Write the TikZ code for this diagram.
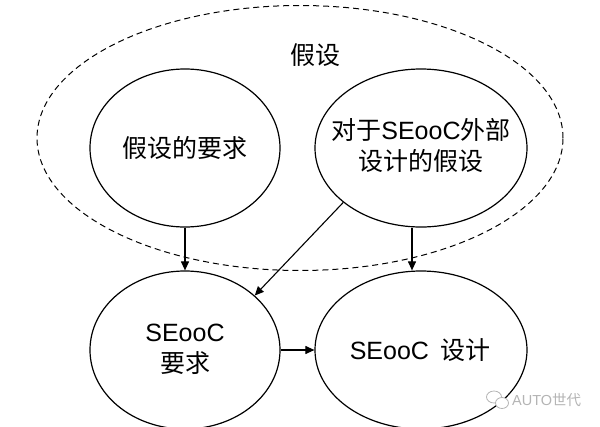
\documentclass[tikz,border=0pt]{standalone}
\usepackage{fontspec}
\setmainfont{Liberation Sans}
\newfontfamily\cjk{Noto Sans CJK SC}
\newfontfamily\lat{Liberation Sans}
\usetikzlibrary{shapes.geometric,arrows.meta}
\definecolor{wm}{HTML}{B4B4B4}
\begin{document}
\begin{tikzpicture}[x=1pt,y=-1pt,
  bub/.style={draw=black, line width=1.2pt, ellipse, inner sep=0pt},
  lbl/.style={font=\cjk\fontsize{25}{31}\selectfont, align=center, inner sep=0pt, text=black},
  conn/.style={line width=1.1pt, -{Triangle[length=9pt,width=8pt]}},
]
\useasboundingbox (0,0) rectangle (600,426);
\node[draw=black, dash pattern=on 6pt off 4pt, line width=1pt, ellipse,
      minimum width=526pt, minimum height=265pt, inner sep=0pt] (grp) at (300,138) {};
\node[lbl] (tgrp) at (315,55) {假设};
\node[bub, minimum width=190pt, minimum height=158pt] (c1) at (185,148) {};
\node[bub, minimum width=212pt, minimum height=158pt] (c2) at (421,148) {};
\node[bub, minimum width=190pt, minimum height=158pt] (c3) at (185,350) {};
\node[bub, minimum width=212pt, minimum height=158pt] (c4) at (421,350) {};
\node[lbl] (t1) at (c1.center) {假设的要求};
\node[lbl] (t2) at ([yshift=3pt]c2.center) {对于{\lat SEooC}外部\\设计的假设};
\node[lbl] (t3) at ([yshift=1pt]c3.center) {{\lat SEooC}\\要求};
\node[lbl] (t4) at ([xshift=-1pt]c4.center) {{\lat SEooC}\hspace{0.45em}设计};
\draw[conn] (c1.south) -- (c3.north);
\draw[conn] ([xshift=-9pt]c2.south) -- ([xshift=-9pt]c4.north);
\draw[conn] (c2.215) -- (c3.38);
\draw[conn] (c3.east) -- (c4.west);
% watermark
\node[draw=wm, line width=0.8pt, ellipse, minimum width=15pt, minimum height=12pt, inner sep=0pt] (w1) at (494,397) {};
\node[draw=wm, fill=white, line width=0.8pt, ellipse, minimum width=13pt, minimum height=11pt, inner sep=0pt] (w2) at (502,403) {};
\node[font=\fontsize{14.5}{16}\selectfont, text=wm, inner sep=0pt, anchor=west] (wt) at (512,400) {AUTO{\cjk 世代}};
\end{tikzpicture}
\end{document}
